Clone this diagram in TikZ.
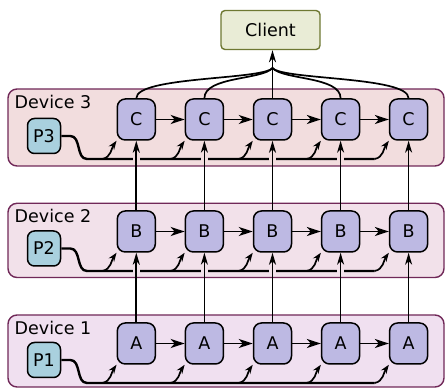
\documentclass[tikz,border=0pt]{standalone}
\usepackage{fontspec}
\setmainfont{DejaVu Sans}
\usetikzlibrary{arrows.meta,calc}
\definecolor{nodefill}{RGB}{189,185,227}
\definecolor{pfill}{RGB}{169,208,222}
\definecolor{clientfill}{RGB}{233,236,214}
\definecolor{clientborder}{RGB}{110,120,50}
\definecolor{devborder}{RGB}{112,40,88}
\definecolor{dthree}{RGB}{242,221,222}
\definecolor{dtwo}{RGB}{242,225,234}
\definecolor{done}{RGB}{240,224,240}
\tikzset{
  blk/.style={draw=black, line width=1.5pt, fill=nodefill, rounded corners=8pt,
    minimum width=38pt, minimum height=41pt, inner sep=0pt},
  pblk/.style={draw=black, line width=1.5pt, fill=pfill, rounded corners=7pt,
    minimum width=33pt, minimum height=35pt, inner sep=0pt},
  devbox/.style={draw=devborder, line width=1.4pt, rounded corners=9pt,
    inner sep=0pt, minimum width=436pt},
  clbox/.style={draw=clientborder, fill=clientfill, line width=1.4pt, rounded corners=4pt,
    minimum width=99pt, minimum height=39pt, inner sep=0pt},
  lbl/.style={inner sep=0pt, anchor=base west},
  conn/.style={line width=1.7pt},
  harr/.style={conn, -{Stealth[length=14pt,width=9pt,inset=4pt]}},
  varr/.style={conn, -{Stealth[length=12pt,width=7pt,inset=3.5pt]}},
  barr/.style={conn, -{Stealth[length=9pt,width=6.5pt,inset=3pt]}},
  busline/.style={line width=2.4pt},
}
\begin{document}
\begin{tikzpicture}[x=1pt,y=1pt,font=\fontsize{17.5}{20}\selectfont]
\useasboundingbox (0,0) rectangle (445,388);
% device boxes
\node[devbox, fill=dthree, minimum height=77pt] (d3) at (226,260.5) {};
\node[devbox, fill=dtwo, minimum height=74.2pt] (d2) at (226,147.6) {};
\node[devbox, fill=done, minimum height=72pt] (d1) at (226,37) {};
\node[lbl] (l3) at (14.5,279) {Device 3};
\node[lbl] (l2) at (14.5,165) {Device 2};
\node[lbl] (l1) at (14.5,53) {Device 1};
% client
\node[clbox] (client) at (270.5,358) {Client};
% P nodes
\node[pblk] (p3) at (44,252) {P3};
\node[pblk] (p2) at (44,139.5) {P2};
\node[pblk] (p1) at (44,28) {P1};
% compute nodes
\foreach \r/\L/\Y in {1/A/44.5,2/B/156.5,3/C/268.5}{
  \foreach \i/\x in {1/136.3,2/204.4,3/272.5,4/340.6,5/408.6}{
    \node[blk] (n\r\i) at (\x,\Y) {\L};
  }
}
% buses
\foreach \r/\bus/\fc in {1/5/done,2/117/dtwo,3/229/dthree}{
  \coordinate (b\r) at (87,\bus);
  \foreach \i/\x in {1/136.3,2/204.4,3/272.5,4/340.6,5/408.6}{
    \coordinate (s\r\i) at (\x-34,\bus);
  }
  \draw[busline] (p\r.east) -- ++(9,0) to[out=0,in=180] (b\r) -- (s\r5);
  \foreach \i in {1,...,5}{
    \draw[barr] (s\r\i) to[out=10,in=-125] (n\r\i.south west);
  }
  \ifnum\r>1
    \foreach \i/\x in {1/136.3,2/204.4,3/272.5,4/340.6,5/408.6}{
      \fill[\fc] (\x-3.8,\bus-3) rectangle (\x+3.8,\bus+3);
    }
  \fi
}
% horizontal arrows
\foreach \r in {1,2,3}{
  \foreach \i/\j in {1/2,2/3,3/4,4/5}{
    \draw[harr] (n\r\i.east) -- (n\r\j.west);
  }
}
% vertical arrows
\foreach \i in {1,...,5}{
  \draw[varr] (n1\i.north) -- (n2\i.south);
  \draw[varr] (n2\i.north) -- (n3\i.south);
}
% to client
\coordinate (m) at (272.5,320);
\draw[varr] (n33.north) -- (n33 |- client.south);
\foreach \i/\s in {1/-10,2/-10,4/10,5/10}{
  \draw[conn] (n3\i.north) .. controls +(0,22) and +(\s,-12) .. (m);
}
\end{tikzpicture}
\end{document}
